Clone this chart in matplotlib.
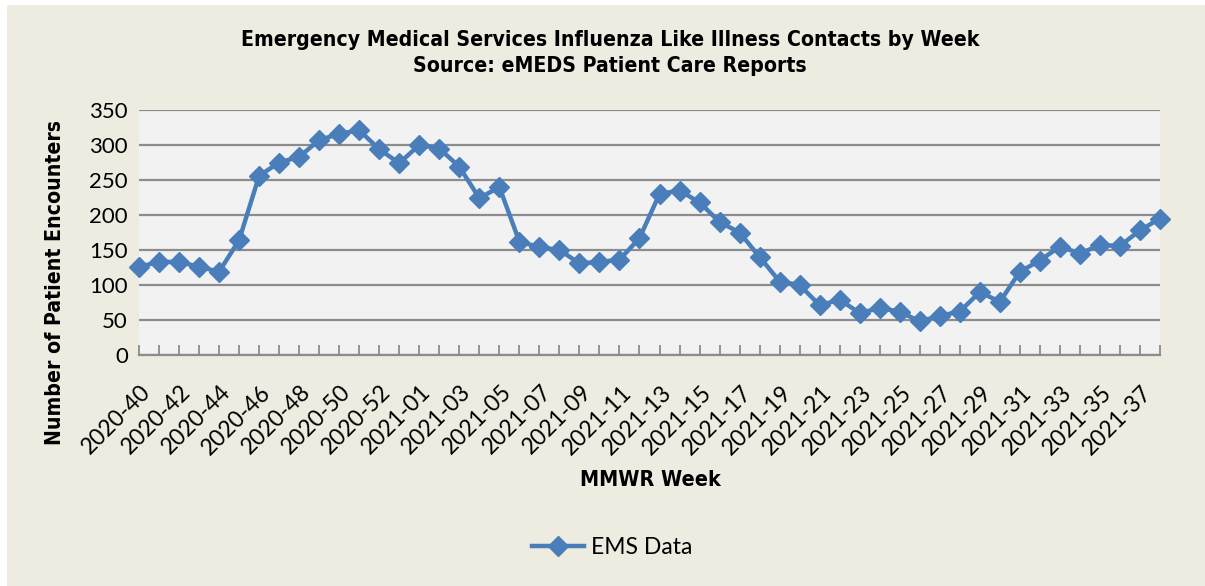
import matplotlib
matplotlib.use('Agg')
import matplotlib.pyplot as plt
import matplotlib.patches as mpatches
import matplotlib.transforms as mtransforms
import numpy as np

# MMWR weeks 2020-40 .. 2020-53, 2021-01 .. 2021-38
weeks = ['2020-%02d' % w for w in range(40, 54)] + ['2021-%02d' % w for w in range(1, 39)]
ems = [126, 133, 133, 126, 119, 164, 256, 275, 283, 307, 316, 321, 294, 274,
       300, 295, 269, 224, 240, 162, 154, 150, 131, 133, 136, 167, 230, 235,
       218, 190, 175, 140, 105, 100, 71, 79, 60, 67, 62, 48, 56, 62, 90, 76,
       119, 135, 155, 145, 157, 156, 178, 195]
yticks = [0, 50, 100, 150, 200, 250, 300, 350]

bg = '#EEEBE0'
blue = '#4A7EBB'
grid = '#8C8C8C'

fig = plt.figure(figsize=(12.05, 5.86), dpi=100)
fig.patch.set_facecolor('white')
fig.patches.append(mpatches.Rectangle((7/1205, 0), 1, 1 - 5/586, transform=fig.transFigure,
                                      facecolor=bg, edgecolor='none', zorder=-10))

ax = fig.add_axes([139/1205, 1 - 355/586, (1160-139)/1205, (355-110)/586])
ax.set_facecolor('#F2F2F2')

x = np.arange(len(weeks))
ax.plot(x, ems, color=blue, lw=3.2, marker='D', markersize=10, clip_on=False, zorder=5,
        label='EMS Data')

ax.set_xlim(0, len(weeks) - 1)
ax.set_ylim(0, 350)
ax.set_yticks(yticks)
ax.set_yticklabels([str(v) for v in yticks], fontfamily='Lato', fontsize=16)
ax.yaxis.grid(True, color=grid, lw=1.6)
ax.set_axisbelow(True)
ax.tick_params(axis='y', length=0, pad=8)

ax.set_xticks(x[::2])
ax.set_xticklabels(weeks[::2], rotation=45, ha='right', rotation_mode='anchor',
                   fontfamily='Lato', fontsize=16.5)
ax.set_xticks(x, minor=True)
ax.tick_params(axis='x', which='both', direction='in', length=7, color=grid, width=1.3, pad=14)
# nudge the slanted labels down a bit
shift = mtransforms.ScaledTranslation(0.01, -0.07, fig.dpi_scale_trans)
for lab in ax.get_xticklabels():
    lab.set_transform(lab.get_transform() + shift)

for s in ['left', 'right', 'top']:
    ax.spines[s].set_visible(False)
ax.spines['bottom'].set_color(grid)
ax.spines['bottom'].set_linewidth(1.6)

fig.text(610/1205, 1 - 40/586, 'Emergency Medical Services Influenza Like Illness Contacts by Week',
         ha='center', va='center', fontsize=15.2, fontweight='bold', fontstretch='condensed')
fig.text(610/1205, 1 - 66/586, 'Source: eMEDS Patient Care Reports',
         ha='center', va='center', fontsize=15.2, fontweight='bold', fontstretch='condensed')

fig.text(55/1205, 1 - 282/586, 'Number of Patient Encounters', rotation=90,
         ha='center', va='center', fontsize=15.2, fontweight='bold', fontstretch='condensed')
fig.text(650/1205, 1 - 480/586, 'MMWR Week',
         ha='center', va='center', fontsize=15.4, fontweight='bold', fontstretch='condensed')

fig.legend(loc='center', bbox_to_anchor=(612/1205, 1 - 548/586), frameon=False,
           prop={'family': 'Lato', 'size': 16.5}, handlelength=2.3, handletextpad=0.3)

fig.savefig('out.png', dpi=100, facecolor=fig.get_facecolor())
